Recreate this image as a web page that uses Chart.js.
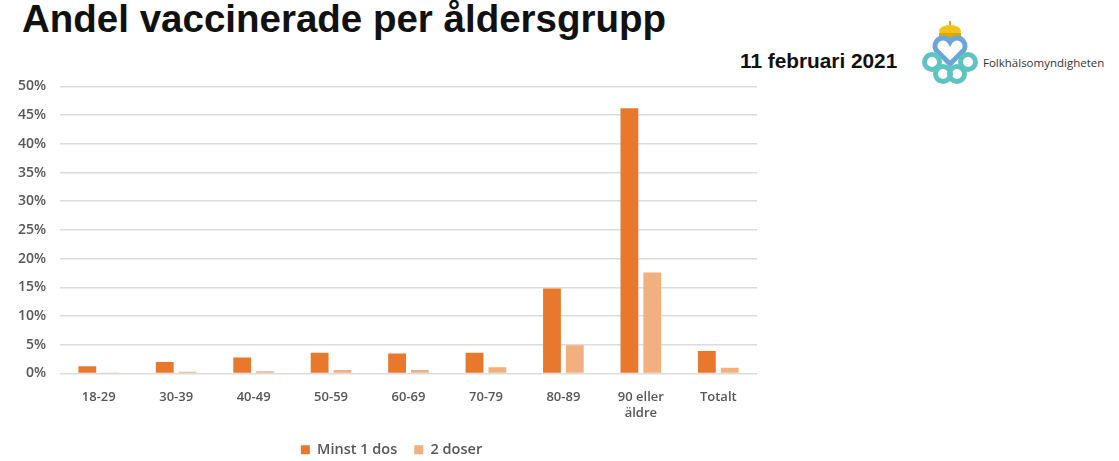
<!DOCTYPE html>
<html>
<head>
<meta charset="utf-8">
<script src="https://cdn.jsdelivr.net/npm/chart.js@4/dist/chart.umd.min.js"></script>
<style>
  body { margin: 0; background: #fff; width: 1119px; height: 461px; overflow: hidden; position: relative; font-family: "Liberation Sans", Arial, sans-serif; }
  #title { position: absolute; left: 22px; top: -3px; font-size: 38.5px; font-weight: bold; color: #111; }
  #date { position: absolute; left: 740px; top: 49px; font-size: 20.8px; font-weight: bold; color: #111; }
  #logo { position: absolute; left: 918px; top: 18px; }
  #logotext { position: absolute; left: 983px; top: 55px; font-size: 11.5px; color: #333; font-family: "Open Sans", sans-serif; }
  #wrap { position: absolute; left: 0; top: 64px; width: 790px; height: 393px; }
</style>
</head>
<body>
<div id="title">Andel vaccinerade per åldersgrupp</div>
<div id="date">11 februari 2021</div>
<svg id="logo" width="64" height="66" viewBox="0 0 64 66">
  <rect x="31" y="3" width="2" height="5" fill="#e0a800"/>
  <ellipse cx="32" cy="13" rx="11" ry="6" fill="#f2c21b"/>
  <rect x="21" y="15" width="22" height="5" fill="#e0a800"/>
  <path d="M32 46 L18 32 A8 8 0 0 1 32 24 A8 8 0 0 1 46 32 Z" fill="none" stroke="#6aa7d8" stroke-width="5"/>
  <circle cx="14" cy="44" r="7.5" fill="none" stroke="#5ec4c0" stroke-width="5"/>
  <circle cx="50" cy="44" r="7.5" fill="none" stroke="#5ec4c0" stroke-width="5"/>
  <circle cx="25" cy="56" r="7.5" fill="none" stroke="#5ec4c0" stroke-width="5"/>
  <circle cx="39" cy="56" r="7.5" fill="none" stroke="#5ec4c0" stroke-width="5"/>
</svg>
<div id="logotext">Folkhälsomyndigheten</div>
<div id="wrap"><canvas id="chart_cv"></canvas></div>
<script>
// データ
const categories = ['18-29', '30-39', '40-49', '50-59', '60-69', '70-79', '80-89', ['90 eller', 'äldre'], 'Totalt'];
const minst1dos = [1.25, 2.0, 2.8, 3.6, 3.5, 3.6, 14.8, 46.2, 3.9];
const tvaDoser = [0.05, 0.3, 0.4, 0.6, 0.6, 1.1, 4.9, 17.6, 1.0];
const yTicks = [0, 5, 10, 15, 20, 25, 30, 35, 40, 45, 50];

const textGrey = '#575757';

// 凡例を少し右へずらす
const legendShift = {
  id: 'legendShift',
  beforeDraw(chart) {
    if (chart.legend) {
      chart.legend.left += 13;
      chart.legend.right += 13;
    }
  }
};

// グラフを描画
const ctx = document.getElementById('chart_cv');
const chart_cv = new Chart(ctx, {
  type: 'bar',
  data: {
    labels: categories,
    datasets: [
      {
        label: 'Minst 1 dos',
        data: minst1dos,
        backgroundColor: '#e8792c',
        barPercentage: 0.78,
        categoryPercentage: 0.59
      },
      {
        label: '2 doser',
        data: tvaDoser,
        backgroundColor: '#f2b07f',
        barPercentage: 0.78,
        categoryPercentage: 0.59
      }
    ]
  },
  plugins: [legendShift],
  options: {
    responsive: true,
    maintainAspectRatio: false,
    animation: false,
    layout: { padding: { left: 0, right: 33, top: 3, bottom: -10 } },
    plugins: {
      tooltip: { enabled: false },
      legend: {
        position: 'bottom',
        labels: {
          boxWidth: 9,
          boxHeight: 9,
          padding: 17,
          color: textGrey,
          font: { family: 'Open Sans', size: 14.5, weight: '600' }
        }
      }
    },
    scales: {
      x: {
        grid: { display: false },
        border: { display: false },
        ticks: {
          color: textGrey,
          padding: 8,
          maxRotation: 0,
          font: { family: 'Open Sans', size: 13, weight: '600' }
        },
        afterFit: function (scale) { scale.height = 52; }
      },
      y: {
        min: 0,
        max: 50,
        afterBuildTicks: function (scale) { scale.ticks = yTicks.map(v => ({ value: v })); },
        grid: { color: '#dcdcdc', lineWidth: 1.5, drawTicks: false },
        border: { display: false },
        ticks: {
          color: textGrey,
          padding: 14,
          font: { family: 'Open Sans', size: 14, weight: '600' },
          callback: v => v + '%'
        },
        afterFit: function (scale) { scale.width = 60; }
      }
    }
  }
});
</script>
</body>
</html>
